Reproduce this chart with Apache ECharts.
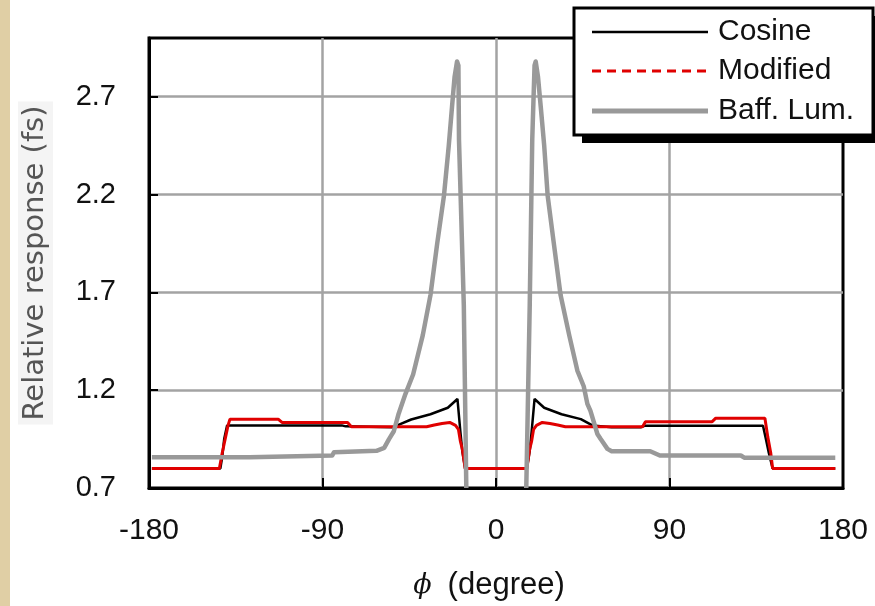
<!DOCTYPE html>
<html>
<head>
<meta charset="utf-8">
<script src="https://cdn.jsdelivr.net/npm/echarts@6/dist/echarts.min.js"></script>
<style>
html,body{margin:0;padding:0;background:#fff;}
#chart{width:875px;height:606px;}
</style>
</head>
<body>
<div id="chart"></div>
<script>
// ---- Data ----
const seriesNames = ['Cosine', 'Modified', 'Baff. Lum.'];
const xTicks = [-180, -90, 0, 90, 180];
const yTicks = [0.7, 1.2, 1.7, 2.2, 2.7];

const cosX = [-178.5, -143, -142, -141, -139.5, -80, -78, -60, -53, -50, -44, -34, -25, -20, -18.5, -17.5, -16, 16, 17.5, 18.5, 20, 25, 34, 44, 50, 60, 75, 77, 138.5, 140, 141.5, 143.5, 176];
const cosY = [0.80, 0.80, 0.86, 0.95, 1.02, 1.02, 1.015, 1.012, 1.01, 1.025, 1.05, 1.077, 1.11, 1.155, 0.99, 0.89, 0.80, 0.80, 0.89, 0.99, 1.155, 1.11, 1.077, 1.052, 1.02, 1.01, 1.01, 1.018, 1.018, 0.95, 0.88, 0.80, 0.80];

const modX = [-178.5, -143.5, -142, -140.5, -139, -138, -113, -111, -77, -75, -36, -32, -28, -24, -21, -19.5, -18.5, -17.5, -16, 16, 17.5, 18.5, 19.5, 21, 24, 28, 32, 36, 76, 77.5, 112, 114, 139.5, 141, 142.5, 143.5, 176];
const modY = [0.80, 0.80, 0.88, 0.95, 1.02, 1.052, 1.052, 1.035, 1.035, 1.013, 1.013, 1.022, 1.03, 1.035, 1.02, 1.0, 0.94, 0.90, 0.80, 0.80, 0.90, 0.94, 1.0, 1.02, 1.035, 1.03, 1.022, 1.013, 1.013, 1.038, 1.038, 1.057, 1.057, 0.96, 0.88, 0.80, 0.80];

const lumX = [-178.5, -128, -127, -85, -84, -62, -58, -55.5, -53, -50.5, -47, -43, -38, -34, -30.5, -27, -24.5, -22.8, -21.5, -20.2, -19.5, -19.2, -16.7, -15.4, 0, 15.7, 17.5, 18.8, 20, 20.6, 21.8, 23.2, 25, 26.8, 30, 33.5, 38, 42.2, 45.5, 47.4, 49, 52.6, 54.3, 57.8, 60, 80, 85, 127, 129, 176];
const lumY = [0.857, 0.857, 0.866, 0.866, 0.883, 0.89, 0.905, 0.95, 0.99, 1.08, 1.18, 1.28, 1.48, 1.686, 1.95, 2.194, 2.45, 2.65, 2.8, 2.88, 2.86, 2.48, 1.636, 0.7, '-', 0.7, 1.636, 2.48, 2.86, 2.88, 2.8, 2.65, 2.45, 2.194, 1.95, 1.686, 1.48, 1.30, 1.22, 1.13, 1.094, 0.976, 0.95, 0.90, 0.888, 0.888, 0.866, 0.866, 0.854, 0.854];

function zip(xs, ys) { return xs.map((x, i) => [x, ys[i]]); }

const chart = echarts.init(document.getElementById('chart'), null, {renderer: 'canvas'});
const labelFont = 'Liberation Sans, Arial, sans-serif';

const legendItems = [
  {name: seriesNames[0], color: '#000', width: 2.5, dash: null, y: 32},
  {name: seriesNames[1], color: '#e00000', width: 3, dash: [9, 6], y: 71},
  {name: seriesNames[2], color: '#999', width: 5, dash: null, y: 111}
];

const legendGraphics = [
  {type: 'rect', shape: {x: 582, y: 16, width: 300, height: 127}, style: {fill: '#000'}, z: 100},
  {type: 'rect', shape: {x: 574, y: 8, width: 299, height: 127}, style: {fill: '#fff', stroke: '#000', lineWidth: 3}, z: 101}
];
legendItems.forEach(it => {
  legendGraphics.push({type: 'line', shape: {x1: 592, y1: it.y, x2: 708, y2: it.y},
    style: {stroke: it.color, lineWidth: it.width, lineDash: it.dash}, z: 102});
  legendGraphics.push({type: 'text', x: 718, y: it.y,
    style: {text: it.name, fill: '#111', font: '30px ' + labelFont, textVerticalAlign: 'middle'}, z: 102});
});

const option = {
  animation: false,
  backgroundColor: '#fff',
  grid: {left: 149, right: 32, top: 38, bottom: 115, show: true, borderColor: '#000', borderWidth: 3, backgroundColor: 'transparent'},
  xAxis: {
    type: 'value', min: xTicks[0], max: xTicks[xTicks.length - 1], interval: 90,
    axisLine: {show: true, onZero: false, lineStyle: {color: '#000', width: 3}},
    axisTick: {show: true, inside: true, length: 10, lineStyle: {color: '#000', width: 2}},
    axisLabel: {margin: 28, fontSize: 30, color: '#111', fontFamily: labelFont},
    splitLine: {show: true, showMinLine: false, showMaxLine: false, lineStyle: {color: '#a3a3a3', width: 2.5}},
    name: '{i|ϕ}{g|(degree)}', nameLocation: 'middle', nameGap: 82,
    nameTextStyle: {padding: [0, 14, 0, 0],
      rich: {
        i: {fontStyle: 'italic', fontSize: 27, color: '#111', fontFamily: 'DejaVu Serif, serif', padding: [0, 16, 0, 0]},
        g: {fontSize: 31, color: '#111', fontFamily: labelFont}
      }}
  },
  yAxis: {
    type: 'value', min: yTicks[0], max: 3.0, interval: 0.5,
    axisLine: {show: true, onZero: false, lineStyle: {color: '#000', width: 3}},
    axisTick: {show: true, inside: true, length: 9, lineStyle: {color: '#000', width: 2}},
    axisLabel: {margin: 33, fontSize: 29, color: '#111', fontFamily: labelFont,
      formatter: v => (v > 2.95 ? '' : v.toFixed(1))},
    splitLine: {show: true, showMinLine: false, showMaxLine: false, lineStyle: {color: '#a3a3a3', width: 2.5}},
    name: '{t|Relative response (fs)}', nameLocation: 'middle', nameGap: 96,
    nameTextStyle: {padding: 0,
      rich: {t: {fontSize: 29, color: '#555', fontFamily: 'DejaVu Sans, sans-serif', backgroundColor: '#f4f4f4', padding: [3, 4]}}}
  },
  series: [
    {name: seriesNames[0], type: 'line', data: zip(cosX, cosY), showSymbol: false, lineStyle: {color: '#000', width: 2.5}, itemStyle: {color: '#000'}, z: 2},
    {name: seriesNames[1], type: 'line', data: zip(modX, modY), showSymbol: false, lineStyle: {color: '#e00000', width: 3}, itemStyle: {color: '#e00000'}, z: 3},
    {name: seriesNames[2], type: 'line', data: zip(lumX, lumY), showSymbol: false, connectNulls: false, lineStyle: {color: '#999', width: 4.5, join: 'round'}, itemStyle: {color: '#999'}, z: 4}
  ],
  graphic: [
    {type: 'rect', shape: {x: 0, y: 0, width: 10, height: 606}, style: {fill: '#e0cfa5'}, z: 0}
  ].concat(legendGraphics)
};
chart.setOption(option);
</script>
</body>
</html>
